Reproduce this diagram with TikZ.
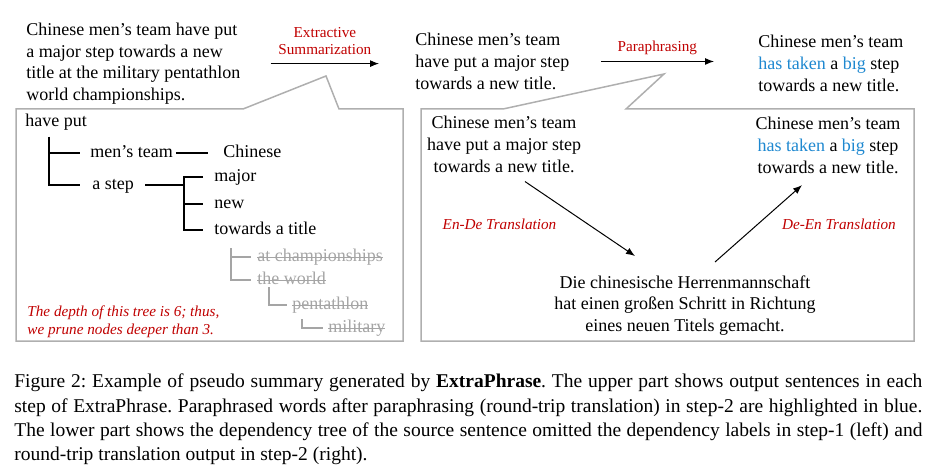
\documentclass[tikz,border=0pt]{standalone}
\usepackage{fontspec}
\setmainfont{Liberation Serif}
\usepackage{xcolor}
\usetikzlibrary{arrows.meta, positioning, calc}

\definecolor{labred}{RGB}{192,0,0}
\definecolor{parablue}{RGB}{30,136,208}
\definecolor{boxgray}{RGB}{175,175,175}
\definecolor{prunegray}{RGB}{165,165,165}

\newcommand{\para}[1]{\textcolor{parablue}{#1}}
\newcommand{\strk}[1]{\setbox0=\hbox{#1}\rlap{\rule[0.5ex]{\wd0}{0.45pt}}\box0}

\begin{document}
\frenchspacing
\begin{tikzpicture}[
  x=0.5pt, y=-0.5pt,
  txt/.style={inner sep=0, font=\fontsize{9}{10.85}\selectfont},
  lab/.style={inner sep=0, text=labred, align=center, font=\fontsize{7.6}{8.6}\selectfont},
  note/.style={lab, font=\fontsize{7.6}{9}\selectfont\itshape},
  leaf/.style={inner sep=0, anchor=west, text height=1.2ex, text depth=0.2ex,
               font=\fontsize{9}{10.85}\selectfont},
  cut/.style={leaf, text=prunegray},
  tree/.style={line width=0.65pt},
  pruned/.style={line width=0.6pt, draw=prunegray},
  arr/.style={-{Latex[length=4.5pt,width=3.5pt]}, line width=0.5pt},
  callout/.style={draw=boxgray, line width=0.75pt}
]
\useasboundingbox (0,0) rectangle (943,476);

% sentences of each step
\node[txt, anchor=north west, align=left] (orig) at (26,22.5)
  {Chinese men’s team have put\\a major step towards a new\\title at the military pentathlon\\world championships.};
\node[txt, anchor=north west, align=left] (summ) at (415,33)
  {Chinese men’s team\\have put a major step\\towards a new title.};
\node[txt, anchor=north west, align=left] (para) at (758,35)
  {Chinese men’s team\\\para{has taken} a \para{big} step\\towards a new title.};

\draw[arr] ([xshift=15pt]orig.east) -- node[lab, above=4pt] {Extractive\\Summarization}
  ([xshift=-18pt]orig.east -| summ.west);
\draw[arr] ([xshift=15.5pt]summ.east) -- node[lab, above=3pt] {Paraphrasing}
  ([xshift=-22pt]summ.east -| para.west);

% callout boxes
\draw[callout] (16,109) -- (243,109) -- (326,76) -- (339,109) -- (403,109)
  -- (403,341) -- (16,341) -- cycle;
\draw[callout] (421,109) -- (503,109) -- (664,74) -- (626,109) -- (914,109)
  -- (914,341) -- (421,341) -- cycle;

% dependency tree
\node[leaf] (haveput)  at (25,122)  {have put};
\node[leaf] (mensteam) at (90,153)  {men’s team};
\node[leaf] (chinese)  at (223,153) {Chinese};
\node[leaf] (astep)    at (92,185)  {a step};
\node[leaf] (major)    at (214,177) {major};
\node[leaf] (new)      at (214,204) {new};
\node[leaf] (towards)  at (214,230) {towards a title};
\node[cut]  (champ)    at (257,257) {\strk{at championships}};
\node[cut]  (world)    at (257,280) {\strk{the world}};
\node[cut]  (pent)     at (292,305) {\strk{pentathlon}};
\node[cut]  (mil)      at (328,328) {\strk{military}};

\draw[tree] ([xshift=12pt,yshift=-4pt]haveput.south west) |- ([xshift=-5pt]mensteam.west);
\draw[tree] ([xshift=12pt,yshift=-4pt]haveput.south west) |- ([xshift=-6pt]astep.west);
\draw[tree] ([xshift=1.25pt]mensteam.east) -- ([xshift=-7.5pt]chinese.west);
\draw[tree] ([xshift=5.5pt]astep.east) -- ($(astep.east -| major.west)+(-15pt,0)$);
\draw[tree] ([xshift=-5.5pt]major.west) -- ([xshift=-15pt]major.west)
  |- ([xshift=-5.5pt]towards.west);
\draw[tree] ([xshift=-15pt]new.west) -- ([xshift=-5.5pt]new.west);

\draw[pruned] ([xshift=8.5pt,yshift=-9pt]towards.west) |- ([xshift=-3pt]champ.west);
\draw[pruned] ([xshift=8.5pt,yshift=-9pt]towards.west) |- ([xshift=-3pt]world.west);
\draw[pruned] ([xshift=6pt,yshift=-3.5pt]world.west) |- ([xshift=-2.5pt]pent.west);
\draw[pruned] ([xshift=5pt,yshift=-7pt]pent.west) |- ([xshift=-2.5pt]mil.west);

\node[note, anchor=north west, align=left] (depth) at (27,305.5)
  {The depth of this tree is 6; thus,\\we prune nodes deeper than 3.};

% round-trip translation
\node[txt, align=center, anchor=north] (src) at (504,116)
  {Chinese men’s team\\have put a major step\\towards a new title.};
\node[txt, align=center, anchor=north] (back) at (828,117)
  {Chinese men’s team\\\para{has taken} a \para{big} step\\towards a new title.};
\node[txt, align=center, anchor=north] (de) at (685,275)
  {Die chinesische Herrenmannschaft\\hat einen großen Schritt in Richtung\\eines neuen Titels gemacht.};

\draw[arr] ([xshift=10.5pt,yshift=-4.3pt]src.south) --
  node[note, pos=0.58, left=16pt] {En-De Translation}
  ([xshift=-25pt,yshift=9.5pt]de.north);
\draw[arr] ([xshift=15pt,yshift=6.5pt]de.north) --
  node[note, pos=0.49, right=12pt] {De-En Translation}
  ([xshift=-13pt,yshift=-5.6pt]back.south);

% caption
\node[anchor=north west, inner sep=0, text width=454pt, align=justify,
      font=\fontsize{9.75}{12.1}\selectfont\frenchspacing] (caption) at (14,373.7)
  {Figure 2: Example of pseudo summary generated by \textbf{ExtraPhrase}. The upper part shows output sentences in each\linebreak
   step of ExtraPhrase. Paraphrased words after paraphrasing (round-trip translation) in step-2 are highlighted in blue.\linebreak
   The lower part shows the dependency tree of the source sentence omitted the dependency labels in step-1 (left) and\linebreak
   round-trip translation output in step-2 (right).};
\end{tikzpicture}
\end{document}
